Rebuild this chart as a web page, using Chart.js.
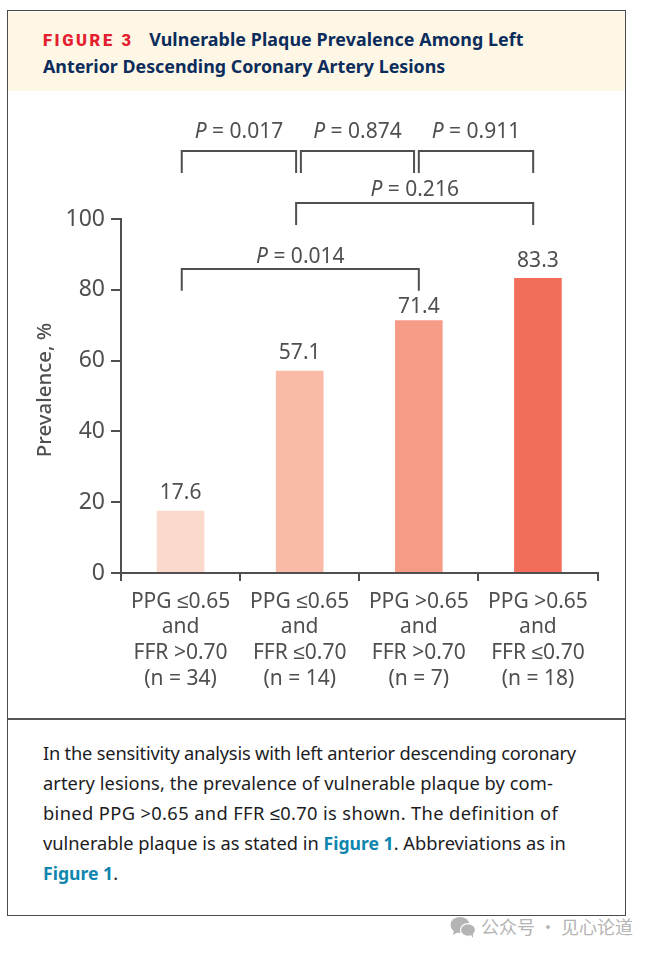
<!DOCTYPE html>
<html>
<head>
<meta charset="utf-8">
<title>Vulnerable Plaque Prevalence</title>
<script src="https://cdn.jsdelivr.net/npm/chart.js@4"></script>
<style>
  html, body { margin: 0; padding: 0; background: #fff; width: 653px; height: 953px; overflow: hidden; }
  body { position: relative; font-family: "Noto Sans", sans-serif; }
  #panel { position: absolute; left: 7px; top: 10px; width: 617px; height: 904px; border: 1px solid #4a4a4c; border-top-width: 1.5px; border-bottom-width: 1.5px; }
  #header { position: absolute; left: 8px; top: 12px; width: 617px; height: 79px; background: #fef7e5; }
  .head { position: absolute; left: 43px; font-size: 17.85px; font-weight: 700; color: #0c2d5c; white-space: nowrap; line-height: 24px; }
  .head b { font-family: Roboto, sans-serif; font-weight: 900; color: #e5202e; letter-spacing: 2.6px; font-size: 16.5px; margin-right: 15.5px; }
  #divider { position: absolute; left: 8px; top: 718px; width: 617px; height: 1.5px; background: #555557; }
  #chartBox { position: absolute; left: 8px; top: 92px; width: 617px; height: 626px; }
  .cap { position: absolute; left: 43px; font-size: 18.3px; color: #1c1c1e; white-space: nowrap; line-height: 24px; }
  .cap a { color: #0f86ad; font-weight: 700; font-size: 17.6px; }
  #mark { position: absolute; left: 450px; top: 913px; width: 190px; height: 26px; color: #b4b4b4; font-family: "Noto Sans CJK SC", sans-serif; font-size: 18px; line-height: 26px; white-space: nowrap; }
  #mark svg { position: absolute; left: 0; top: 3px; }
  #mark span { position: absolute; left: 31px; top: 0; }
</style>
</head>
<body>
<div id="panel"></div>
<div id="header"></div>
<div class="head" style="top:27px;letter-spacing:0.07px"><b>FIGURE 3</b>Vulnerable Plaque Prevalence Among Left</div>
<div class="head" style="top:54px">Anterior Descending Coronary Artery Lesions</div>
<div id="chartBox"><canvas id="grafico" width="617" height="626"></canvas></div>
<div id="divider"></div>
<div class="cap" style="top:741px;letter-spacing:-0.21px">In the sensitivity analysis with left anterior descending coronary</div>
<div class="cap" style="top:771px;letter-spacing:0.07px">artery lesions, the prevalence of vulnerable plaque by com-</div>
<div class="cap" style="top:801px;letter-spacing:0.37px">bined PPG &gt;0.65 and FFR ≤0.70 is shown. The definition of</div>
<div class="cap" style="top:831px">vulnerable plaque is as stated in <a>Figure 1</a>. Abbreviations as in</div>
<div class="cap" style="top:861px"><a>Figure 1</a>.</div>
<div id="mark">
  <svg width="26" height="22" viewBox="0 0 26 22">
    <ellipse cx="10" cy="9" rx="9.5" ry="8" fill="#b4b4b4"/>
    <path d="M4 14 L3 19 L8 16 Z" fill="#b4b4b4"/>
    <ellipse cx="18" cy="14" rx="7.5" ry="6.4" fill="#b4b4b4" stroke="#fff" stroke-width="1.2"/>
    <path d="M21 19 L23 22 L23 17 Z" fill="#b4b4b4"/>
  </svg>
  <span>公众号 · 见心论道</span>
</div>

<script>
// Prevalence by PPG / FFR group
const categorias = [
  ['PPG ≤0.65', 'and', 'FFR >0.70', '(n = 34)'],
  ['PPG ≤0.65', 'and', 'FFR ≤0.70', '(n = 14)'],
  ['PPG >0.65', 'and', 'FFR >0.70', '(n = 7)'],
  ['PPG >0.65', 'and', 'FFR ≤0.70', '(n = 18)']
];
const prevalencia = [17.6, 57.1, 71.4, 83.3];
const coloresBarra = ['#fbdacd', '#f9baa7', '#f69b86', '#f36d5b'];
const ticksY = [0, 20, 40, 60, 80, 100];

// Comparison brackets: ends in category units, heights in % units
const valoresP = ['0.017', '0.874', '0.911', '0.216', '0.014'];
const corcheteDesde = [0.01, 1.01, 2.0, 0.97, 0.01];
const corcheteHasta = [0.97, 1.96, 2.96, 2.96, 2.0];
const corcheteTecho = [119.2, 119.2, 119.2, 104.5, 85.9];
const corchetePie = [113, 113, 113, 98.3, 79.7];
const etiquetaP = [124.5, 124.5, 124.5, 108.3, 89.4];

const GRIS = '#4f4f51';
const FUENTE = '"Noto Sans", sans-serif';

// Value labels above each bar; the 71.4 label sits closer to its bar
const valoresBarra = {
  id: 'valoresBarra',
  afterDatasetsDraw(chart) {
    const ctx = chart.ctx;
    const meta = chart.getDatasetMeta(0);
    const hueco = [7, 7, 3, 7];
    ctx.save();
    ctx.font = '21px ' + FUENTE;
    ctx.fillStyle = GRIS;
    ctx.textAlign = 'center';
    ctx.textBaseline = 'bottom';
    meta.data.forEach(function(bar, i) {
      ctx.fillText(prevalencia[i].toFixed(1), bar.x, bar.y - hueco[i]);
    });
    ctx.restore();
  }
};

// P value brackets above the bars
const corchetes = {
  id: 'corchetes',
  afterDraw(chart) {
    const ctx = chart.ctx;
    const x = chart.scales.x;
    const y = chart.scales.y;
    ctx.save();
    ctx.strokeStyle = GRIS;
    ctx.lineWidth = 2;
    ctx.fillStyle = GRIS;
    ctx.textBaseline = 'middle';
    valoresP.forEach(function(p, i) {
      const x0 = x.getPixelForValue(corcheteDesde[i]);
      const x1 = x.getPixelForValue(corcheteHasta[i]);
      const techo = y.getPixelForValue(corcheteTecho[i]);
      const pie = y.getPixelForValue(corchetePie[i]);
      ctx.beginPath();
      ctx.moveTo(x0, pie);
      ctx.lineTo(x0, techo);
      ctx.lineTo(x1, techo);
      ctx.lineTo(x1, pie);
      ctx.stroke();

      // italic P followed by upright text, centred together
      const resto = ' = ' + p;
      ctx.font = 'italic 21px ' + FUENTE;
      const anchoP = ctx.measureText('P').width;
      ctx.font = '21px ' + FUENTE;
      const anchoResto = ctx.measureText(resto).width;
      const inicio = (x0 + x1) / 2 - (anchoP + anchoResto) / 2;
      const yTexto = y.getPixelForValue(etiquetaP[i]);
      ctx.textAlign = 'left';
      ctx.font = 'italic 21px ' + FUENTE;
      ctx.fillText('P', inicio, yTexto);
      ctx.font = '21px ' + FUENTE;
      ctx.fillText(resto, inicio + anchoP, yTexto);
    });
    ctx.restore();
  }
};

// Rotated axis title, sits a little above the middle of the axis
const tituloEje = {
  id: 'tituloEje',
  afterDraw(chart) {
    const ctx = chart.ctx;
    const y = chart.scales.y;
    ctx.save();
    ctx.translate(37, y.getPixelForValue(51.7));
    ctx.rotate(-Math.PI / 2);
    ctx.font = '500 20.4px ' + FUENTE;
    ctx.fillStyle = GRIS;
    ctx.textAlign = 'center';
    ctx.textBaseline = 'middle';
    ctx.fillText('Prevalence, %', 0, 0);
    ctx.restore();
  }
};

new Chart(document.getElementById('grafico'), {
  type: 'bar',
  data: {
    labels: categorias,
    datasets: [{
      data: prevalencia,
      backgroundColor: coloresBarra,
      borderWidth: 0,
      barPercentage: 0.4,
      categoryPercentage: 1
    }]
  },
  options: {
    responsive: false,
    animation: false,
    layout: { padding: { top: 127, right: 27.5, left: 0, bottom: 0 } },
    plugins: { legend: { display: false }, tooltip: { enabled: false } },
    scales: {
      x: {
        afterFit(scale) { scale.height = 145; },
        border: { color: GRIS, width: 2 },
        grid: { drawOnChartArea: false, color: GRIS, lineWidth: 2, tickLength: 8 },
        ticks: {
          color: GRIS,
          maxRotation: 0,
          autoSkip: false,
          padding: 8,
          font: { family: FUENTE, size: 21, lineHeight: 1.22 }
        }
      },
      y: {
        min: 0,
        max: 100,
        afterFit(scale) { scale.width = 113; },
        afterBuildTicks(scale) { scale.ticks = ticksY.map(v => ({ value: v })); },
        border: { color: GRIS, width: 2 },
        grid: { drawOnChartArea: false, color: GRIS, lineWidth: 2, tickLength: 10 },
        ticks: {
          color: GRIS,
          padding: 6,
          font: { family: FUENTE, size: 23 }
        }
      }
    }
  },
  plugins: [valoresBarra, corchetes, tituloEje]
});
</script>
</body>
</html>
